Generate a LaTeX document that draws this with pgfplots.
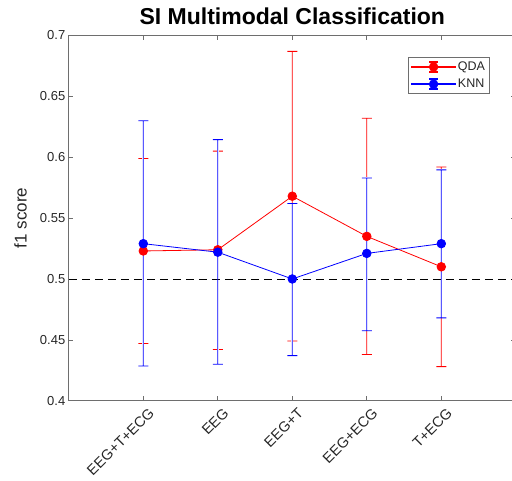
\documentclass[border=0pt]{standalone}
\usepackage{fontspec}
\setmainfont{Liberation Sans}
\usepackage{pgfplots}
\pgfplotsset{compat=1.18}
\definecolor{axgray}{RGB}{110,110,110}
\definecolor{txtgray}{RGB}{38,38,38}
\pgfplotsset{
  ebglyph/.style={legend image code/.code={
    \fill[#1] (0pt,-0.4pt) rectangle (44pt,0.4pt);
    \fill[#1] (22.4pt,-5.4pt) rectangle (21.6pt,5.4pt);
    \fill[#1] (18pt,-5.4pt) rectangle (26pt,-4.6pt);
    \fill[#1] (18pt,4.6pt) rectangle (26pt,5.4pt);
    \fill[#1] (22pt,0pt) circle (4.3pt);
  }},
  fb/.style={forget plot, fill=#1, draw=none, mark=none},
}
\begin{document}
\begin{tikzpicture}
\useasboundingbox (-68.8pt,-79.3pt) rectangle (443.2pt,400.7pt);
\clip (-68.8pt,-79.3pt) rectangle (443.2pt,400.7pt);
\begin{axis}[
  at={(0pt,0pt)}, anchor=south west,
  scale only axis, width=447pt, height=365.2pt,
  xmin=0, xmax=6, ymin=0.4, ymax=0.7,
  xtick={1,2,3,4,5},
  xticklabels={EEG+T+ECG,EEG,EEG+T,EEG+ECG,T+ECG},
  ytick={0.4,0.45,0.5,0.55,0.6,0.65,0.7},
  yticklabels={0.4,0.45,0.5,0.55,0.6,0.65,0.7},
  tick align=inside, major tick length=4.5pt,
  axis line style={axgray, line width=0.6pt},
  tick style={axgray, line width=0.6pt},
  ticklabel style={font=\fontsize{13}{13}\selectfont, text=txtgray},
  xticklabel style={font=\fontsize{14.5}{14.5}\selectfont, anchor=north east, rotate=45, xshift=2.3pt, yshift=-4.2pt},
  /pgf/number format/assume math mode=true,
  ylabel={f1 score},
  ylabel style={at={(axis description cs:-0.108,0.5)}, anchor=center, font=\fontsize{17}{17}\selectfont, text=txtgray},
  title={SI Multimodal Classification},
  title style={at={(axis description cs:0.5,1)}, anchor=base, yshift=5pt, font=\bfseries\fontsize{23}{23}\selectfont},
  legend style={at={(axis description cs:0.942,0.941)}, anchor=north east, draw=axgray, line width=0.6pt, font=\fontsize{12.5}{12.5}\selectfont, text=txtgray, inner sep=2.5pt, row sep=3pt, legend cell align=left},
]
% QDA error bars (bar with caps, as filled outlines)
\addplot[fb=red] coordinates {(0.933,0.44665) (1.067,0.44665) (1.067,0.44735) (1.0055,0.44735) (1.0055,0.59865) (1.067,0.59865) (1.067,0.59935) (0.933,0.59935) (0.933,0.59865) (0.9945,0.59865) (0.9945,0.44735) (0.933,0.44735)};
\addplot[fb=red] coordinates {(1.933,0.44165) (2.067,0.44165) (2.067,0.44235) (2.0055,0.44235) (2.0055,0.60465) (2.067,0.60465) (2.067,0.60535) (1.933,0.60535) (1.933,0.60465) (1.9945,0.60465) (1.9945,0.44235) (1.933,0.44235)};
\addplot[fb=red] coordinates {(2.933,0.44865) (3.067,0.44865) (3.067,0.44935) (3.0055,0.44935) (3.0055,0.68665) (3.067,0.68665) (3.067,0.68735) (2.933,0.68735) (2.933,0.68665) (2.9945,0.68665) (2.9945,0.44935) (2.933,0.44935)};
\addplot[fb=red] coordinates {(3.933,0.43765) (4.067,0.43765) (4.067,0.43835) (4.0055,0.43835) (4.0055,0.63165) (4.067,0.63165) (4.067,0.63235) (3.933,0.63235) (3.933,0.63165) (3.9945,0.63165) (3.9945,0.43835) (3.933,0.43835)};
\addplot[fb=red] coordinates {(4.933,0.42765) (5.067,0.42765) (5.067,0.42835) (5.0055,0.42835) (5.0055,0.59165) (5.067,0.59165) (5.067,0.59235) (4.933,0.59235) (4.933,0.59165) (4.9945,0.59165) (4.9945,0.42835) (4.933,0.42835)};
% white underlay where the KNN bars lie over the QDA bars
\addplot[fb=white] coordinates {(0.987,0.4281) (1.013,0.4281) (1.013,0.6304) (0.987,0.6304)};
\addplot[fb=white] coordinates {(1.987,0.4296) (2.013,0.4296) (2.013,0.6149) (1.987,0.6149)};
\addplot[fb=white] coordinates {(2.987,0.4366) (3.013,0.4366) (3.013,0.5624) (2.987,0.5624)};
\addplot[fb=white] coordinates {(3.987,0.4571) (4.013,0.4571) (4.013,0.5834) (3.987,0.5834)};
\addplot[fb=white] coordinates {(4.987,0.4676) (5.013,0.4676) (5.013,0.5900) (4.987,0.5900)};
\addplot[black, dashed, dash pattern=on 8pt off 5pt, line width=0.7pt, forget plot] coordinates {(0,0.5) (6,0.5)};
\addplot[red, line width=0.8pt, mark=*, mark size=4.3pt, ebglyph=red]
 coordinates {(1,0.523) (2,0.524) (3,0.568) (4,0.535) (5,0.510)};
\addlegendentry{QDA}
% KNN error bars
\addplot[fb=blue] coordinates {(0.933,0.42815) (1.067,0.42815) (1.067,0.42885) (1.0055,0.42885) (1.0055,0.62965) (1.067,0.62965) (1.067,0.63035) (0.933,0.63035) (0.933,0.62965) (0.9945,0.62965) (0.9945,0.42885) (0.933,0.42885)};
\addplot[fb=blue] coordinates {(1.933,0.42965) (2.067,0.42965) (2.067,0.43035) (2.0055,0.43035) (2.0055,0.61415) (2.067,0.61415) (2.067,0.61485) (1.933,0.61485) (1.933,0.61415) (1.9945,0.61415) (1.9945,0.43035) (1.933,0.43035)};
\addplot[fb=blue] coordinates {(2.933,0.43665) (3.067,0.43665) (3.067,0.43735) (3.0055,0.43735) (3.0055,0.56165) (3.067,0.56165) (3.067,0.56235) (2.933,0.56235) (2.933,0.56165) (2.9945,0.56165) (2.9945,0.43735) (2.933,0.43735)};
\addplot[fb=blue] coordinates {(3.933,0.45715) (4.067,0.45715) (4.067,0.45785) (4.0055,0.45785) (4.0055,0.58265) (4.067,0.58265) (4.067,0.58335) (3.933,0.58335) (3.933,0.58265) (3.9945,0.58265) (3.9945,0.45785) (3.933,0.45785)};
\addplot[fb=blue] coordinates {(4.933,0.46765) (5.067,0.46765) (5.067,0.46835) (5.0055,0.46835) (5.0055,0.58925) (5.067,0.58925) (5.067,0.58995) (4.933,0.58995) (4.933,0.58925) (4.9945,0.58925) (4.9945,0.46835) (4.933,0.46835)};
\addplot[blue, line width=0.8pt, mark=*, mark size=4.3pt, ebglyph=blue]
 coordinates {(1,0.529) (2,0.522) (3,0.500) (4,0.521) (5,0.529)};
\addlegendentry{KNN}
\end{axis}
\end{tikzpicture}
\end{document}
